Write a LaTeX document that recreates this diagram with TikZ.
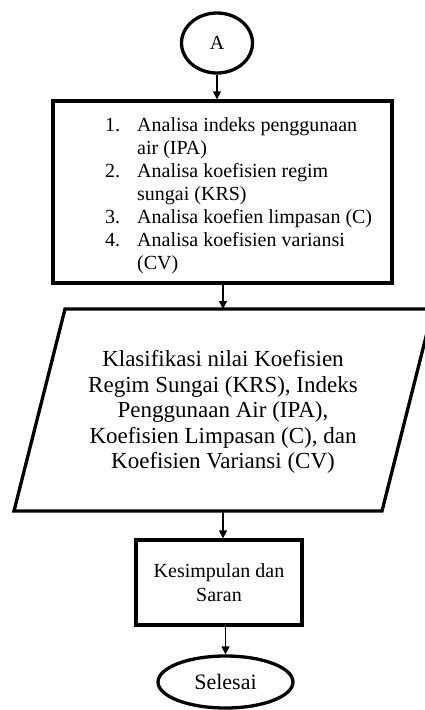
\documentclass[tikz,border=0pt]{standalone}
\usepackage{fontspec}
\setmainfont{Liberation Serif}
\usetikzlibrary{arrows.meta,shapes.geometric}
\tikzset{
  boxline/.style={draw=black,line width=3.3pt},
  conn/.style={draw=black,line width=1.4pt,-{Triangle[length=8pt,width=8pt]}},
}
\begin{document}
\begin{tikzpicture}[x=1pt,y=-1pt]
\clip (0,0) rectangle (425,710);
\fill[white] (0,0) rectangle (425,710);
% start connector A
\node[boxline,ellipse,minimum width=71pt,minimum height=60pt,inner sep=0pt,font=\fontsize{20}{24}\selectfont] (A) at (217,43) {A};
% box 1
\node[boxline,rectangle,minimum width=339pt,minimum height=182pt,inner sep=0pt] (box1) at (222.5,192) {};
\node[anchor=base west,inner sep=0pt,font=\fontsize{20}{23}\selectfont] (list) at (105,131) {%
\begin{tabular}[t]{@{}p{32pt}@{}l@{}}
1. & Analisa indeks penggunaan\\
   & air (IPA)\\
2. & Analisa koefisien regim\\
   & sungai (KRS)\\
3. & Analisa koefien limpasan (C)\\
4. & Analisa koefisien variansi\\
   & (CV)
\end{tabular}};
% parallelogram
\draw[boxline,line join=miter] (65,309) -- (433,309) -- (382,511) -- (14,511) -- cycle;
\coordinate (ptop) at (223,309);
\coordinate (pbot) at (223,511);
\node[align=center,inner sep=0pt,font=\fontsize{23}{25.5}\selectfont] (klas) at (223,412) {Klasifikasi nilai Koefisien\\Regim Sungai (KRS), Indeks\\Penggunaan Air (IPA),\\Koefisien Limpasan (C), dan\\Koefisien Variansi (CV)};
% box 2
\node[boxline,rectangle,minimum width=166pt,minimum height=85pt,inner sep=0pt,align=center,font=\fontsize{20}{24}\selectfont] (box2) at (219,582.5) {Kesimpulan dan\\Saran};
% end
\node[boxline,ellipse,minimum width=135pt,minimum height=52pt,inner sep=0pt,font=\fontsize{22}{24}\selectfont] (sel) at (225.5,682) {Selesai};
% connectors
\draw[conn] (A.south) -- (A.south |- box1.north);
\draw[conn] (ptop |- box1.south) -- (ptop);
\draw[conn] (pbot) -- (pbot |- box2.north);
\draw[conn] (sel.north |- box2.south) -- (sel.north);
\end{tikzpicture}
\end{document}
